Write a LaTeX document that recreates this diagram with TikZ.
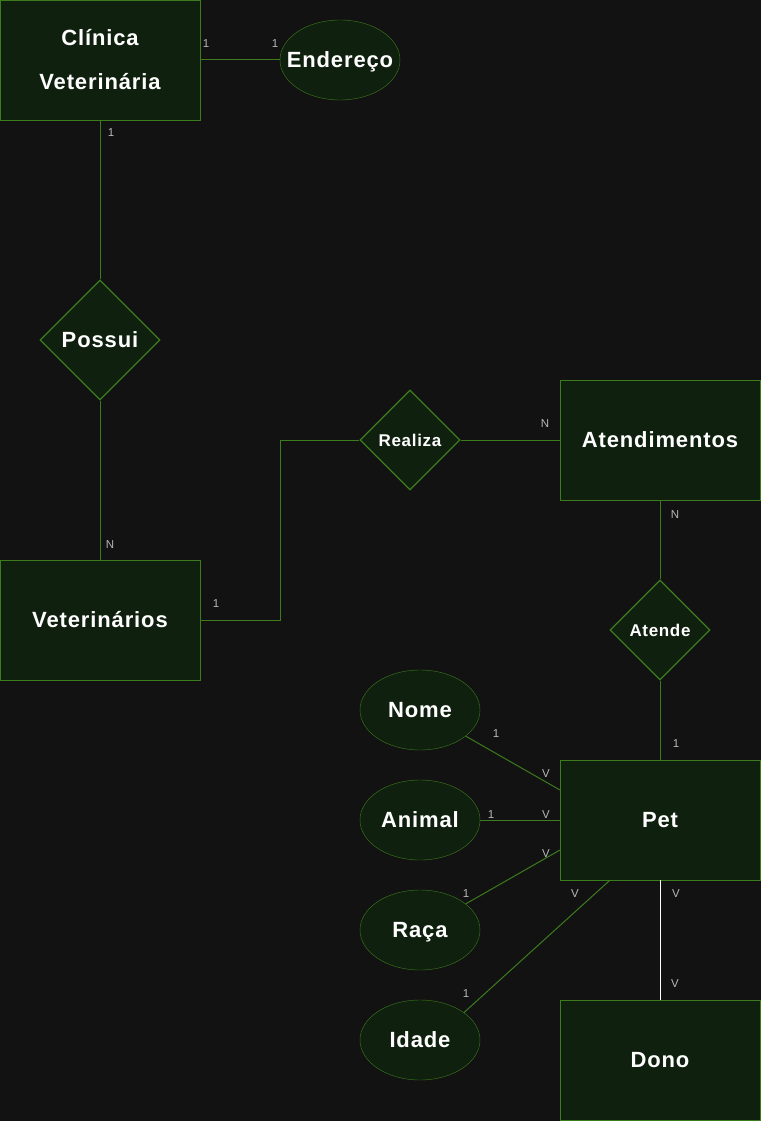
\documentclass[tikz,border=0pt]{standalone}
\usepackage{fontspec}
\setmainfont{Liberation Sans}
\newfontfamily\titlefont[LetterSpace=4]{Liberation Sans}
\usetikzlibrary{shapes.geometric, calc}
\definecolor{bg}{HTML}{121212}
\definecolor{boxfill}{HTML}{10200F}
\definecolor{boxline}{HTML}{3C7C1C}
\definecolor{cardgray}{HTML}{B8B8B8}

\begin{document}
\begin{tikzpicture}[x=1pt, y=-1pt,
  entity/.style = {draw=boxline, fill=boxfill, minimum width=200pt, minimum height=120pt, inner sep=0pt, text=white, align=center, font=\titlefont\fontsize{22}{44}\selectfont\bfseries},
  attr/.style = {draw=boxline, fill=boxfill, ellipse, minimum width=120pt, minimum height=80pt, inner xsep=-12pt, inner ysep=0pt, text depth=0pt, text=white, font=\titlefont\fontsize{22}{26}\selectfont\bfseries},
  rel/.style = {draw=boxline, fill=boxfill, diamond, line width=1.3pt, inner sep=0pt, text=white},
  card/.style = {text=cardgray, inner sep=0pt, font=\fontsize{11.5}{13}\selectfont},
  conn/.style = {draw=boxline, line width=1pt}]

\useasboundingbox (0,0) rectangle (761,1121);
\fill[bg] (0,0) rectangle (761,1121);

%% entities
\node[entity] (clinica) at (100,60) {Clínica\\Veterinária};
\node[entity] (vet) at (100,620) {Veterinários};
\node[entity] (atend) at (660,440) {Atendimentos};
\node[entity] (pet) at (660,820) {Pet};
\node[entity] (dono) at (660,1060) {Dono};

%% attributes
\node[attr] (endereco) at (340,60) {Endereço};
\node[attr] (nome) at (420,710) {Nome};
\node[attr] (animal) at (420,820) {Animal};
\node[attr] (raca) at (420,930) {Raça};
\node[attr] (idade) at (420,1040) {Idade};

%% relations
\node[rel, minimum size=120pt, font=\titlefont\fontsize{22}{26}\selectfont\bfseries] (possui) at (100,340) {Possui};
\node[rel, minimum size=100pt, font=\titlefont\fontsize{17}{20}\selectfont\bfseries] (realiza) at (410,440) {Realiza};
\node[rel, minimum size=100pt, font=\titlefont\fontsize{17}{20}\selectfont\bfseries] (atende) at (660,630) {Atende};

%%% edges
\draw[conn] (clinica) -- (endereco);
\draw[conn] (clinica) -- (possui) -- (vet);
\draw[conn] (vet.east) -- ++(80,0) |- (realiza);
\draw[conn] (realiza) -- (atend);
\draw[conn] (atend) -- (atende) -- (pet);

\draw[conn] (nome) -- ($(pet.north west)!0.25!(pet.south west)$);
\draw[conn] (animal) -- (pet);
\draw[conn] (raca) -- ($(pet.north west)!0.75!(pet.south west)$);
\draw[conn] (idade.32) -- ($(pet.south west)!0.25!(pet.south east)$);
\draw[white, line width=1pt] (pet) -- (dono);

%% cardinalities
\node[card] (c1) at (206,44) {1};
\node[card] (c2) at (275,44) {1};
\node[card] (c3) at (111,133) {1};
\node[card] (c4) at (110,545) {N};
\node[card] (c5) at (216,604) {1};
\node[card] (c6) at (545,424) {N};
\node[card] (c7) at (675,515) {N};
\node[card] (c8) at (676,744) {1};

\node[card] (c9) at (496,734) {1};
\node[card] (c10) at (546,774) {V};
\node[card] (c11) at (491,815) {1};
\node[card] (c12) at (546,815) {V};
\node[card] (c13) at (546,854) {V};
\node[card] (c14) at (466,894) {1};
\node[card] (c15) at (575,894) {V};
\node[card] (c16) at (466,994) {1};
\node[card] (c17) at (676,894) {V};
\node[card] (c18) at (675,984) {V};

\end{tikzpicture}
\end{document}
